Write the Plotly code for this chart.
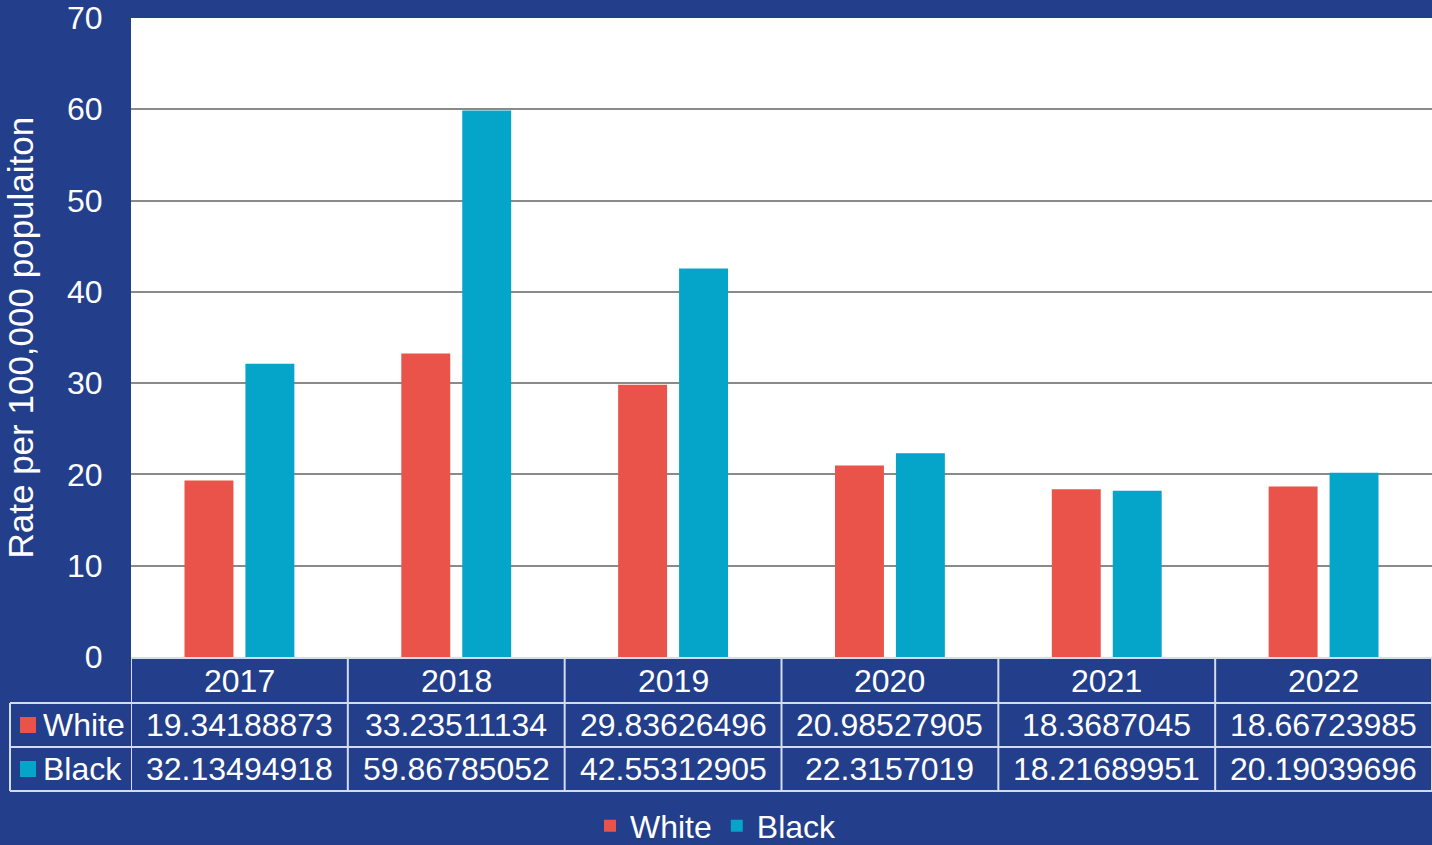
import plotly.graph_objects as go

# Rates per 100,000 population by year
years = ["2017", "2018", "2019", "2020", "2021", "2022"]
white = [19.34188873, 33.23511134, 29.83626496, 20.98527905, 18.3687045, 18.66723985]
black = [32.13494918, 59.86785052, 42.55312905, 22.3157019, 18.21689951, 20.19039696]
series_names = ["White", "Black"]
y_ticks = [0, 10, 20, 30, 40, 50, 60, 70]

BG = "#233E8B"
RED = "#E9534A"
TEAL = "#05A5C9"
BORDER = "#D5DBEF"
FONT = "Liberation Sans, Arial, sans-serif"
FS = 32

W, H = 1432, 845
L, R, T, B = 131, 0, 18, 188
plot_h = H - T - B


def ypix(py):
    """Pixel row (from top of page) to paper y."""
    return (H - B - py) / plot_h


def xpix(px):
    return (px - L) / (W - L - R)


fig = go.Figure()
fig.add_trace(go.Bar(x=years, y=white, name=series_names[0], marker_color=RED,
                     marker_line_width=0))
fig.add_trace(go.Bar(x=years, y=black, name=series_names[1], marker_color=TEAL,
                     marker_line_width=0))

shapes = []
annotations = []
line = dict(color=BORDER, width=2)

# data table under the axis
row_top, row1, row2, row_bot = 658, 703, 747, 791
n = len(years)
shapes.append(dict(type="line", xref="x", yref="paper", x0=-0.5, x1=n - 0.5,
                   y0=ypix(row_top), y1=ypix(row_top), line=line))
for py in (row1, row2, row_bot):
    shapes.append(dict(type="line", xref="paper", yref="paper", x0=xpix(10), x1=1,
                       y0=ypix(py), y1=ypix(py), line=line))
for i in range(n + 1):
    shapes.append(dict(type="line", xref="x", yref="paper", x0=i - 0.5, x1=i - 0.5,
                       y0=ypix(row_top), y1=ypix(row_bot), line=line))
shapes.append(dict(type="line", xref="paper", yref="paper", x0=xpix(10), x1=xpix(10),
                   y0=ypix(row1), y1=ypix(row_bot), line=line))

txt = dict(family=FONT, size=FS, color="white")
for i, yr in enumerate(years):
    for text, (r0, r1) in ((yr, (row_top, row1)),
                           (str(white[i]), (row1, row2)),
                           (str(black[i]), (row2, row_bot))):
        annotations.append(dict(x=i, y=ypix((r0 + r1) / 2), xref="x", yref="paper",
                                text=text, showarrow=False, font=txt,
                                xanchor="center", yanchor="middle"))

for name, color, (r0, r1) in ((series_names[0], RED, (row1, row2)),
                              (series_names[1], TEAL, (row2, row_bot))):
    mid = (r0 + r1) / 2
    shapes.append(dict(type="rect", xref="paper", yref="paper", x0=xpix(20), x1=xpix(36),
                       y0=ypix(mid + 8), y1=ypix(mid - 8), fillcolor=color, line_width=0))
    annotations.append(dict(x=xpix(41), y=ypix(mid), xref="paper", yref="paper", text=name,
                            showarrow=False, font=txt, xanchor="left", yanchor="middle"))

# y axis title
annotations.append(dict(x=xpix(20), y=0.5, xref="paper", yref="paper",
                        text="Rate per 100,000 populaiton", textangle=-90,
                        showarrow=False, font=dict(family=FONT, size=35, color="white"),
                        xanchor="center", yanchor="middle"))

fig.update_layout(
    width=W, height=H,
    margin=dict(l=L, r=R, t=T, b=B, pad=0, autoexpand=False),
    paper_bgcolor=BG, plot_bgcolor="white",
    barmode="group", bargap=0.438, bargroupgap=0.197,
    font=dict(family=FONT, size=FS, color="white"),
    showlegend=True,
    legend=dict(orientation="h", xref="container", yref="paper",
                x=0.5, xanchor="center", y=ypix(826), yanchor="middle",
                font=dict(family=FONT, size=FS, color="white"),
                bgcolor="rgba(0,0,0,0)", traceorder="normal", itemwidth=30),
    shapes=shapes, annotations=annotations,
)
fig.update_xaxes(type="category", showticklabels=False, ticks="", showgrid=False,
                 zeroline=False, showline=False, range=[-0.5, n - 0.5], fixedrange=True)
fig.update_yaxes(range=[0, 70], tickvals=y_ticks, showgrid=True, gridcolor="#8A8A8A",
                 gridwidth=2, zeroline=False, showline=False,
                 ticks="outside", ticklen=21, tickcolor="rgba(0,0,0,0)",
                 tickfont=dict(family=FONT, size=FS, color="white"), fixedrange=True)

fig.write_html("out.html")
